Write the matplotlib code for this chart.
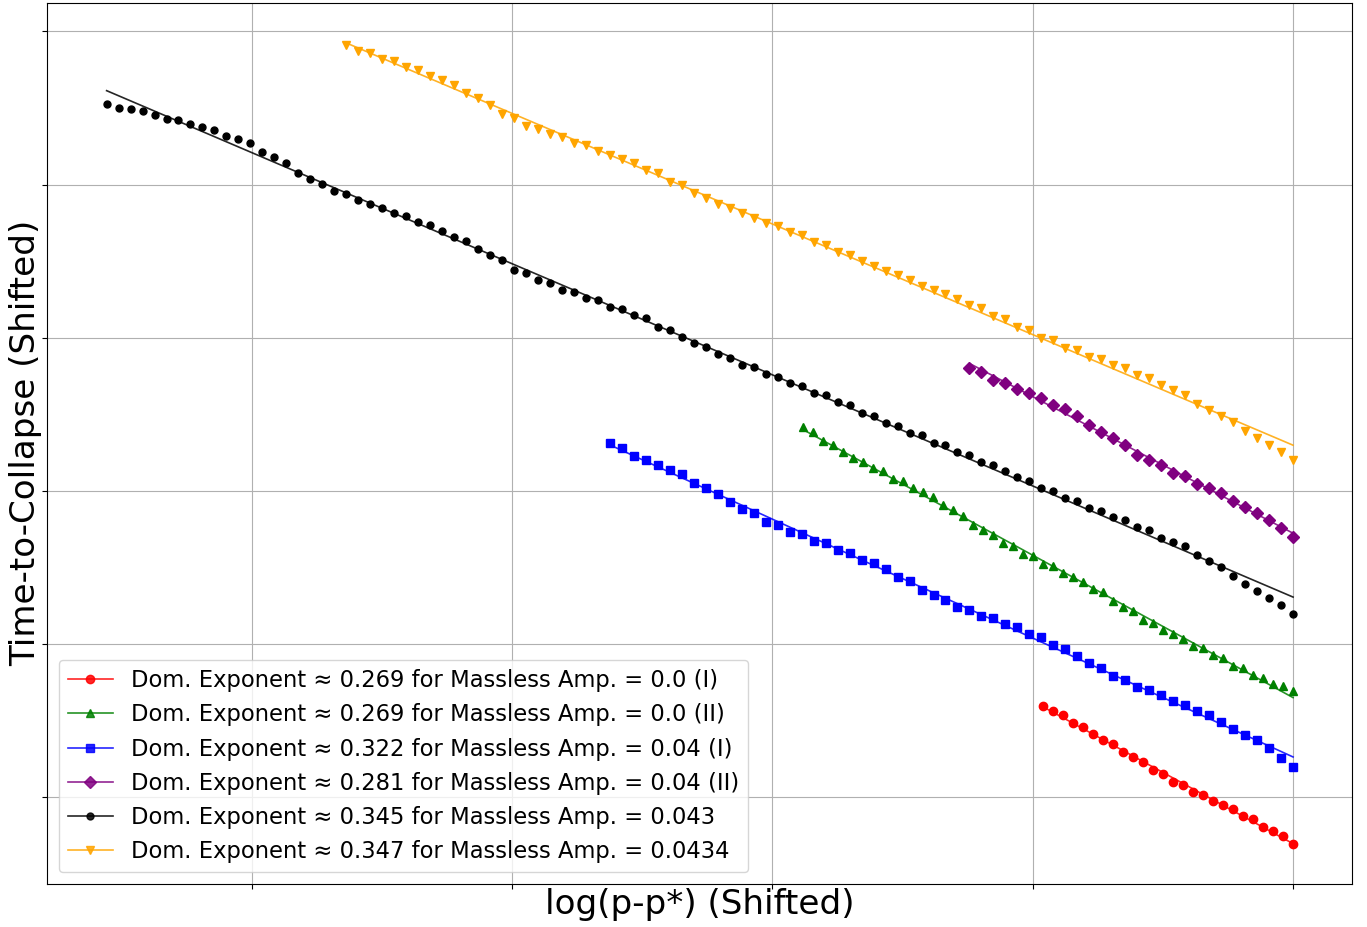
import numpy as np
import matplotlib
matplotlib.use("Agg")
from matplotlib import pyplot as plt
from matplotlib.lines import Line2D

# shifted log(p-p*) sampling grids
x_grid_a = [-45.57, -45.11, -44.65, -44.19, -43.73, -43.27, -42.81, -42.35, -41.89, -41.43,
            -40.97, -40.51, -40.05, -39.59, -39.13, -38.67, -38.21, -37.75, -37.29, -36.82,
            -36.36, -35.90, -35.44, -34.98, -34.52, -34.06, -33.60, -33.14, -32.68, -32.22,
            -31.76, -31.30, -30.84, -30.38, -29.92, -29.46, -29.00, -28.54, -28.08, -27.62,
            -27.16, -26.70, -26.24, -25.78, -25.32, -24.86, -24.40, -23.94, -23.48, -23.02,
            -22.56, -22.09, -21.63, -21.17, -20.71, -20.25, -19.79, -19.33, -18.87, -18.41,
            -17.95, -17.49, -17.03, -16.57, -16.11, -15.65, -15.19, -14.73, -14.27, -13.81,
            -13.35, -12.89, -12.43, -11.97, -11.51, -11.05, -10.59, -10.13, -9.67, -9.21,
            -8.75, -8.29, -7.83, -7.37, -6.91, -6.45, -5.99, -5.52, -5.06, -4.60,
            -4.14, -3.68, -3.22, -2.76, -2.30, -1.84, -1.38, -0.92, -0.46, 0.00]

x_grid_b = [-18.83, -18.45, -18.06, -17.68, -17.29, -16.91, -16.52, -16.14, -15.76, -15.37,
            -14.99, -14.60, -14.22, -13.83, -13.45, -13.07, -12.68, -12.30, -11.91, -11.53,
            -11.14, -10.76, -10.38, -9.99, -9.61, -9.22, -8.84, -8.45, -8.07, -7.69,
            -7.30, -6.92, -6.53, -6.15, -5.76, -5.38, -5.00, -4.61, -4.23, -3.84,
            -3.46, -3.07, -2.69, -2.31, -1.92, -1.54, -1.15, -0.77, -0.38, 0.00]

# time-to-collapse (shifted) for each run
t_red = [5.98, 5.65, 5.39, 4.87, 4.61, 4.15, 3.72, 3.46, 2.93, 2.63,
         2.30, 1.81, 1.52, 1.00, 0.83, 0.35, 0.18, -0.22, -0.52, -0.74,
         -1.24, -1.43, -1.94, -2.20, -2.52, -3.02]

t_green = [24.19, 23.86, 23.27, 22.97, 22.57, 22.12, 21.92, 21.47, 21.27, 20.81,
           20.62, 20.16, 19.95, 19.58, 19.10, 18.77, 18.38, 17.80, 17.47, 17.13,
           16.60, 16.38, 15.86, 15.73, 15.23, 15.10, 14.65, 14.36, 14.06, 13.60,
           13.38, 12.80, 12.45, 12.17, 11.58, 11.39, 10.93, 10.63, 10.35, 9.88,
           9.77, 9.26, 9.08, 8.60, 8.43, 8.00, 7.76, 7.41, 7.28, 6.91]

t_blue = [23.10, 22.80, 22.28, 22.05, 21.69, 21.36, 21.10, 20.53, 20.21, 19.82,
          19.25, 18.82, 18.53, 17.95, 17.78, 17.32, 17.19, 16.73, 16.62, 16.15,
          15.97, 15.51, 15.27, 14.88, 14.36, 14.10, 13.54, 13.19, 12.89, 12.43,
          12.24, 11.84, 11.68, 11.30, 11.10, 10.65, 10.45, 9.93, 9.69, 9.24,
          8.79, 8.46, 7.94, 7.69, 7.22, 6.98, 6.65, 6.32, 6.03, 5.63,
          5.35, 4.95, 4.48, 4.06, 3.72, 3.21, 2.54, 1.96]

t_purple = [28.05, 27.79, 27.27, 27.07, 26.63, 26.37, 26.04, 25.61, 25.35, 24.90,
            24.32, 23.87, 23.48, 22.98, 22.34, 22.01, 21.69, 21.17, 20.99, 20.45,
            20.21, 19.88, 19.36, 18.92, 18.53, 18.10, 17.56, 16.97]

t_black = [45.26, 45.00, 44.93, 44.83, 44.57, 44.28, 44.22, 43.92, 43.76, 43.55,
           43.20, 42.96, 42.68, 42.11, 41.79, 41.38, 40.74, 40.37, 40.05, 39.55,
           39.35, 38.96, 38.70, 38.44, 38.14, 37.94, 37.55, 37.35, 36.96, 36.59,
           36.33, 35.77, 35.38, 35.05, 34.40, 34.20, 33.77, 33.59, 33.12, 32.99,
           32.61, 32.48, 32.03, 31.90, 31.47, 31.27, 30.72, 30.49, 30.03, 29.66,
           29.38, 28.94, 28.68, 28.23, 28.10, 27.64, 27.46, 27.05, 26.88, 26.42,
           26.24, 25.80, 25.61, 25.08, 24.92, 24.45, 24.27, 23.75, 23.63, 23.16,
           23.00, 22.54, 22.36, 21.89, 21.69, 21.27, 20.93, 20.62, 20.16, 19.97,
           19.51, 19.32, 18.86, 18.66, 18.30, 18.10, 17.67, 17.47, 16.96, 16.69,
           16.38, 15.80, 15.42, 15.01, 14.44, 13.93, 13.48, 13.02, 12.56, 11.98]

t_orange = [49.13, 48.70, 48.59, 48.22, 48.09, 47.65, 47.50, 47.07, 46.85, 46.48,
            45.96, 45.65, 45.18, 44.61, 44.35, 43.85, 43.64, 43.27, 43.11, 42.68,
            42.55, 42.22, 41.90, 41.64, 41.38, 40.92, 40.74, 40.18, 39.96, 39.46,
            39.13, 38.74, 38.44, 38.12, 37.83, 37.46, 37.27, 36.90, 36.68, 36.25,
            36.03, 35.57, 35.40, 35.01, 34.68, 34.35, 34.09, 33.75, 33.40, 33.12,
            32.87, 32.51, 32.14, 31.96, 31.42, 31.25, 30.72, 30.51, 30.01, 29.84,
            29.35, 29.20, 28.77, 28.60, 28.21, 28.01, 27.56, 27.37, 26.92, 26.60,
            26.26, 25.70, 25.27, 24.92, 24.49, 23.91, 23.45, 23.00, 22.54, 21.99]

labels = ["Dom. Exponent \u2248 0.269 for Massless Amp. = 0.0 (I)",
          "Dom. Exponent \u2248 0.269 for Massless Amp. = 0.0 (II)",
          "Dom. Exponent \u2248 0.322 for Massless Amp. = 0.04 (I)",
          "Dom. Exponent \u2248 0.281 for Massless Amp. = 0.04 (II)",
          "Dom. Exponent \u2248 0.345 for Massless Amp. = 0.043",
          "Dom. Exponent \u2248 0.347 for Massless Amp. = 0.0434"]

runs = [
    (x_grid_b[24:], t_red, 'red', 'o', 6),
    (x_grid_b, t_green, 'green', '^', 6),
    (x_grid_a[42:], t_blue, 'blue', 's', 6),
    (x_grid_a[72:], t_purple, 'purple', 'D', 6),
    (x_grid_a, t_black, 'black', 'o', 5),
    (x_grid_a[20:], t_orange, 'orange', 'v', 6),
]

fig = plt.figure(figsize=(13.67, 9.27), dpi=100)
ax = fig.add_axes([0.0346, 0.0467, 0.9547, 0.9501])

handles = []
for (x, t, col, mk, ms), lab in zip(runs, labels):
    x = np.array(x)
    t = np.array(t)
    ax.plot(x, t, linestyle='none', marker=mk, color=col, markersize=ms)
    coef = np.polyfit(x, t, 1)
    ax.plot(x, np.polyval(coef, x), '-', color=col, linewidth=1.2, alpha=0.85)
    handles.append(Line2D([], [], color=col, marker=mk, markersize=ms,
                          linewidth=1.2, alpha=0.85, label=lab))

ax.set_xticks([-40, -30, -20, -10, 0])
ax.set_yticks([0, 10, 20, 30, 40, 50])
ax.set_xticklabels([])
ax.set_yticklabels([])
ax.grid(True)

ax.set_xlabel('log(p-p*) (Shifted)', fontsize=24.6, labelpad=-4)
ax.set_ylabel('Time-to-Collapse (Shifted)', fontsize=24.6, labelpad=-3)
ax.legend(handles=handles, loc='lower left', fontsize=16.25)

fig.savefig('out.png', dpi=100)
